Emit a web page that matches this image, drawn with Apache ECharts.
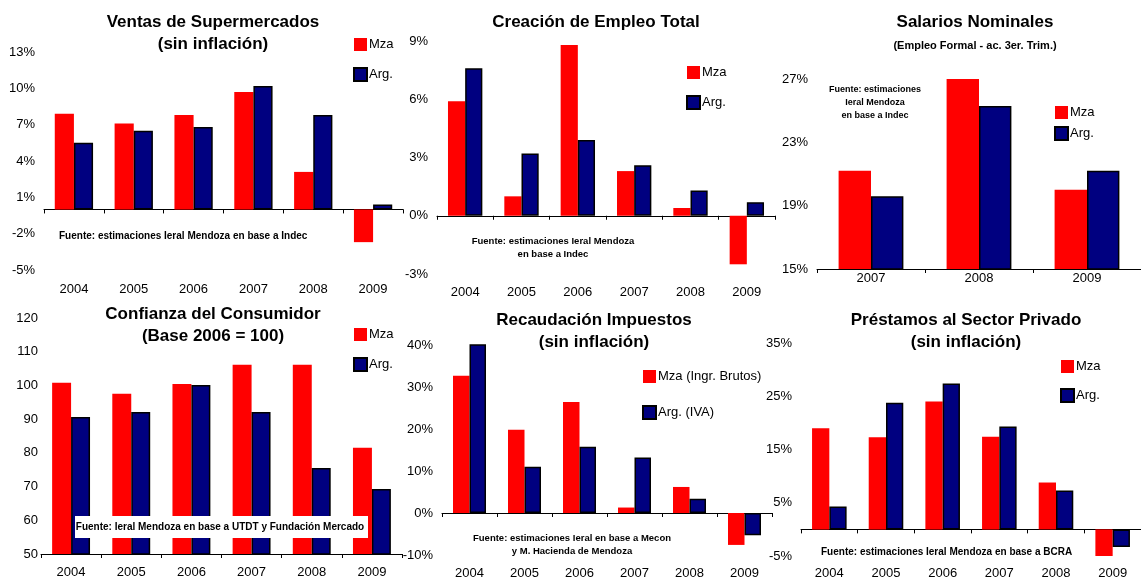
<!DOCTYPE html>
<html>
<head>
<meta charset="utf-8">
<script src="https://cdn.jsdelivr.net/npm/echarts@6/dist/echarts.min.js"></script>
<style>
  html, body { margin: 0; padding: 0; background: #fff; }
  #chart { width: 1141px; height: 580px; }
</style>
</head>
<body>
<div id="chart"></div>
<script>
// categories
const years = ['2004', '2005', '2006', '2007', '2008', '2009']
const salaryYears = ['2007', '2008', '2009']

// Ventas de Supermercados (%)
const ventasMza = [7.9, 7.1, 7.8, 9.7, 3.1, -2.7]
const ventasArg = [5.5, 6.5, 6.8, 10.2, 7.8, 0.4]

// Creación de Empleo Total (%)
const empleoMza = [5.9, 1.0, 8.8, 2.3, 0.4, -2.5]
const empleoArg = [7.6, 3.2, 3.9, 2.6, 1.3, 0.7]

// Salarios Nominales (%)
const salariosMza = [21.2, 27.4, 20.0]
const salariosArg = [19.6, 25.3, 21.2]

// Confianza del Consumidor (índice)
const confianzaMza = [100.8, 97.5, 100.4, 106.1, 106.1, 81.5]
const confianzaArg = [90.6, 92.1, 100.1, 92.1, 75.5, 69.3]

// Recaudación Impuestos (%)
const recaudMza = [32.7, 19.8, 26.4, 1.3, 6.2, -7.6]
const recaudArg = [41.6, 11.0, 15.8, 13.2, 3.4, -5.3]

// Préstamos al Sector Privado (%)
const prestamosMza = [19.0, 17.3, 24.0, 17.4, 8.8, -5.1]
const prestamosArg = [4.3, 23.8, 27.4, 19.3, 7.3, -3.3]

const FONT = "'Liberation Sans', Arial, sans-serif"
const RED = '#ff0000'
const NAVY = '#000080'

const panels = [
  { cats: years, mza: ventasMza, arg: ventasArg, names: ['Mza', 'Arg.'],
    grid: [44, 52, 359, 218], y: [-5, 13, 3], pct: true, labelMargin: 13, gap: '36%',
    legend: { left: 353, top: 38, orient: 'vertical', itemGap: 16 } },
  { cats: years, mza: empleoMza, arg: empleoArg, names: ['Mza', 'Arg.'],
    grid: [437, 41, 338, 233], y: [-3, 9, 3], pct: true, labelMargin: 12, gap: '39%',
    legend: { left: 686, top: 66, orient: 'vertical', itemGap: 16 } },
  { cats: salaryYears, mza: salariosMza, arg: salariosArg, names: ['Mza', 'Arg.'],
    grid: [817, 79, 333, 190], y: [15, 27, 4], pct: true, labelMargin: 3, gap: '40%',
    legend: { left: 1054, top: 106, orient: 'horizontal', itemGap: 8 } },
  { cats: years, mza: confianzaMza, arg: confianzaArg, names: ['Mza', 'Arg.'],
    grid: [41, 318, 361, 236], y: [50, 120, 10], pct: false, labelMargin: 12, gap: '37%',
    legend: { left: 353, top: 328, orient: 'vertical', itemGap: 16 } },
  { cats: years, mza: recaudMza, arg: recaudArg, names: ['Mza (Ingr. Brutos)', 'Arg. (IVA)'],
    grid: [442, 345, 330, 211], y: [-10, 40, 10], pct: true, labelMargin: 12, gap: '40%',
    legend: { left: 642, top: 370, orient: 'vertical', itemGap: 22 } },
  { cats: years, mza: prestamosMza, arg: prestamosArg, names: ['Mza', 'Arg.'],
    grid: [801, 343, 347, 214], y: [-5, 35, 10], pct: true, labelMargin: 11, gap: '39%',
    legend: { left: 1060, top: 360, orient: 'vertical', itemGap: 15 } }
]

const titles = [
  { text: 'Ventas de Supermercados\n(sin inflación)', x: 213, top: 11, size: 17 },
  { text: 'Creación de Empleo Total', x: 596, top: 11, size: 17 },
  { text: 'Salarios Nominales', x: 975, top: 11, size: 17 },
  { text: '(Empleo Formal - ac. 3er. Trim.)', x: 975, top: 35, size: 11 },
  { text: 'Confianza del Consumidor\n(Base 2006 = 100)', x: 213, top: 303, size: 17 },
  { text: 'Recaudación Impuestos\n(sin inflación)', x: 594, top: 309, size: 17 },
  { text: 'Préstamos al Sector Privado\n(sin inflación)', x: 966, top: 309, size: 17 }
]

const sources = [
  { text: 'Fuente: estimaciones Ieral Mendoza en base a Indec', x: 59, y: 236, align: 'left', size: 10 },
  { text: 'Fuente: estimaciones Ieral Mendoza\nen base a Indec', x: 553, y: 248, align: 'center', size: 9.5 },
  { text: 'Fuente: estimaciones\nIeral Mendoza\nen base a Indec', x: 875, y: 103, align: 'center', size: 9 },
  { text: 'Fuente: estimaciones Ieral en base a Mecon\ny M. Hacienda de Mendoza', x: 572, y: 545, align: 'center', size: 9.5 },
  { text: 'Fuente: estimaciones Ieral Mendoza en base a BCRA', x: 821, y: 552, align: 'left', size: 10 }
]

const option = {
  animation: false,
  backgroundColor: '#fff',
  textStyle: { fontFamily: FONT, color: '#000' },
  title: titles.map(t => ({
    text: t.text, left: t.x, top: t.top, textAlign: 'center', padding: 0,
    textStyle: { fontFamily: FONT, fontWeight: 'bold', fontSize: t.size, lineHeight: 22, color: '#000' }
  })),
  grid: [], xAxis: [], yAxis: [], legend: [], series: [],
  graphic: []
}

panels.forEach((p, i) => {
  option.grid.push({ left: p.grid[0], top: p.grid[1], width: p.grid[2], height: p.grid[3], containLabel: false })
  // axis drawn at zero, with ticks
  option.xAxis.push({
    type: 'category', gridIndex: i, data: p.cats,
    axisLine: { onZero: true, lineStyle: { color: '#000', width: 1 } },
    axisTick: { show: true, length: 4, lineStyle: { color: '#000' } },
    axisLabel: { show: false }, splitLine: { show: false }
  })
  // category labels at the bottom of the plot
  option.xAxis.push({
    type: 'category', gridIndex: i, data: p.cats, position: 'bottom',
    axisLine: { show: false, onZero: false }, axisTick: { show: false },
    axisLabel: { margin: p.labelMargin, fontSize: 13, color: '#000', fontFamily: FONT },
    splitLine: { show: false }
  })
  option.yAxis.push({
    type: 'value', gridIndex: i, min: p.y[0], max: p.y[1], interval: p.y[2],
    axisLine: { show: false }, axisTick: { show: false }, splitLine: { show: false },
    axisLabel: { fontSize: 13, color: '#000', margin: i === 3 ? 3 : 9, fontFamily: FONT,
      formatter: p.pct ? '{value}%' : '{value}' }
  })
  option.legend.push(Object.assign({
    data: p.names, icon: 'rect', itemWidth: 13, itemHeight: 13, padding: 0,
    selectedMode: false,
    textStyle: { fontSize: 13, color: '#000', fontFamily: FONT, padding: [0, 0, 0, -3] }
  }, p.legend))
  option.series.push({
    name: p.names[0], type: 'bar', xAxisIndex: 2 * i, yAxisIndex: i, data: p.mza,
    barGap: '0%', barCategoryGap: p.gap,
    itemStyle: { color: RED }
  })
  option.series.push({
    name: p.names[1], type: 'bar', xAxisIndex: 2 * i, yAxisIndex: i, data: p.arg,
    barGap: '0%', barCategoryGap: p.gap,
    itemStyle: { color: NAVY, borderColor: '#000', borderWidth: 1.5 }
  })
})

sources.forEach(s => {
  option.graphic.push({
    type: 'text', x: s.x, y: s.y, z: 100,
    style: { text: s.text, font: 'bold ' + s.size + 'px ' + FONT, fill: '#000',
      textAlign: s.align, textVerticalAlign: 'middle', lineHeight: 13 }
  })
})
// white box with source for Confianza del Consumidor
option.graphic.push({
  type: 'rect', z: 100, shape: { x: 75, y: 516, width: 293, height: 22 },
  style: { fill: '#fff' }
})
option.graphic.push({
  type: 'text', x: 220, y: 527, z: 101,
  style: { text: 'Fuente: Ieral Mendoza en base a UTDT y Fundación Mercado',
    font: 'bold 10px ' + FONT, fill: '#000', textAlign: 'center', textVerticalAlign: 'middle' }
})

const chart = echarts.init(document.getElementById('chart'))
chart.setOption(option)
window.addEventListener('resize', function () {
  chart.resize()
})
</script>
</body>
</html>
